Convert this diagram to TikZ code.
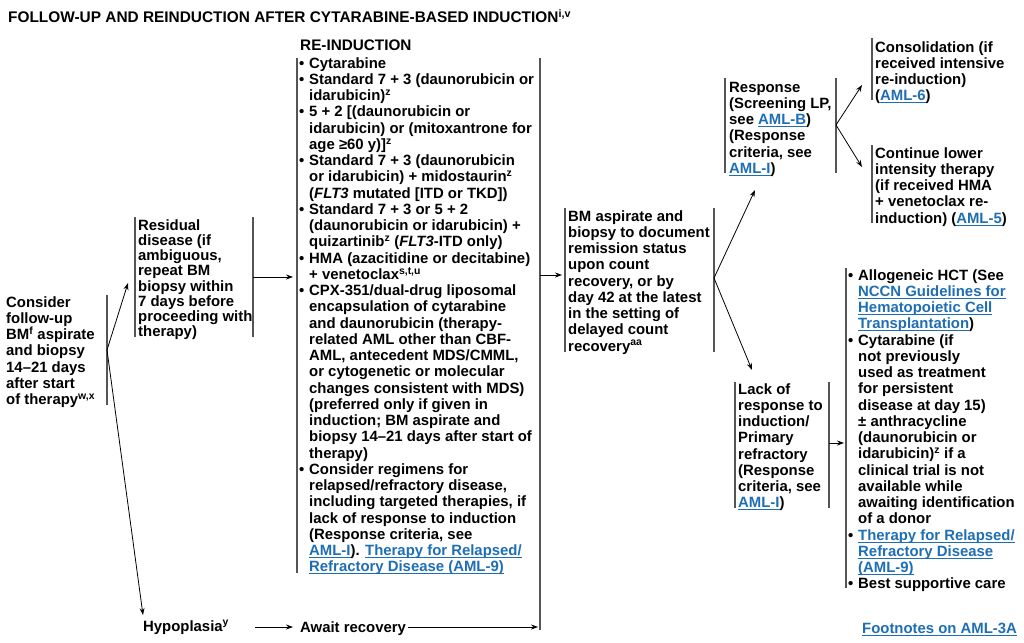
\documentclass[tikz,border=0pt]{standalone}
\usepackage{fontspec}
\setmainfont{Liberation Sans}
\usetikzlibrary{arrows.meta}
\definecolor{lnk}{RGB}{30,110,180}
\definecolor{barc}{RGB}{85,85,85}
\newcommand\lnk[1]{{\color{lnk}\setbox0=\hbox{#1}\leavevmode\rlap{\rule[-2.4pt]{\wd0}{0.9pt}}\box0}}
\newcommand\bul{\makebox[10pt][l]{•}}
\newcommand\ind{\hspace*{10pt}}
\newcommand\sq{\rule{0pt}{12pt}}
\tikzset{
  txt/.style={anchor=north west,inner sep=0pt,align=left,font=\bfseries\fontsize{14.9}{16.25}\selectfont},
  bar/.style={draw=barc,line width=1.6pt},
  arr/.style={-{Stealth[length=7pt,width=5pt]},line width=0.8pt},
}
\begin{document}
\begin{tikzpicture}[x=1pt,y=-1pt]
  \useasboundingbox (0,0) rectangle (1024,642);
  % headings
  \node[txt,font=\bfseries\fontsize{15.4}{16}\selectfont] (title) at (8,9) {\sq FOLLOW-UP AND REINDUCTION AFTER CYTARABINE-BASED INDUCTION\textsuperscript{i,v}};
  \node[txt,font=\bfseries\fontsize{15.3}{16}\selectfont] (rihead) at (300,38) {\sq RE-INDUCTION};
  % text blocks
  \node[txt] (fu) at (6,295) {\sq Consider\\follow-up\\BM\textsuperscript{f} aspirate\\and biopsy\\14–21 days\\after start\\of therapy\textsuperscript{w,x}};
  \node[txt,font=\bfseries\fontsize{14.9}{15.2}\selectfont] (res) at (138,218) {\sq Residual\\disease (if\\ambiguous,\\repeat BM\\biopsy within\\7 days before\\proceeding with\\therapy)};
  \node[txt] (hyp) at (143,619) {\sq Hypoplasia\textsuperscript{y}};
  \node[txt] (ri) at (299,56) {\sq\bul Cytarabine\\
    \bul Standard 7 + 3 (daunorubicin or\\
    \ind idarubicin)\textsuperscript{z}\\
    \bul 5 + 2 [(daunorubicin or\\
    \ind idarubicin) or (mitoxantrone for\\
    \ind age ≥60 y)]\textsuperscript{z}\\
    \bul Standard 7 + 3 (daunorubicin\\
    \ind or idarubicin) + midostaurin\textsuperscript{z}\\
    \ind (\textit{FLT3} mutated [ITD or TKD])\\
    \bul Standard 7 + 3 or 5 + 2\\
    \ind (daunorubicin or idarubicin) +\\
    \ind quizartinib\textsuperscript{z} (\textit{FLT3}-ITD only)\\
    \bul HMA (azacitidine or decitabine)\\
    \ind + venetoclax\textsuperscript{s,t,u}\\
    \bul CPX-351/dual-drug liposomal\\
    \ind encapsulation of cytarabine\\
    \ind and daunorubicin (therapy-\\
    \ind related AML other than CBF-\\
    \ind AML, antecedent MDS/CMML,\\
    \ind or cytogenetic or molecular\\
    \ind changes consistent with MDS)\\
    \ind (preferred only if given in\\
    \ind induction; BM aspirate and\\
    \ind biopsy 14–21 days after start of\\
    \ind therapy)\\
    \bul Consider regimens for\\
    \ind relapsed/refractory disease,\\
    \ind including targeted therapies, if\\
    \ind lack of response to induction\\
    \ind (Response criteria, see\\
    \ind \lnk{AML-I}). \lnk{Therapy for Relapsed/}\\
    \ind \lnk{Refractory Disease (AML-9)}};
  \node[txt] (await) at (300,620) {\sq Await recovery};
  \node[txt] (bm) at (568,209) {\sq BM aspirate and\\biopsy to document\\remission status\\upon count\\recovery, or by\\day 42 at the latest\\in the setting of\\delayed count\\recovery\textsuperscript{aa}};
  \node[txt] (rsp) at (729,80) {\sq Response\\(Screening LP,\\see \lnk{AML-B})\\(Response\\criteria, see\\\lnk{AML-I})};
  \node[txt] (cons) at (875,40) {\sq Consolidation (if\\received intensive\\re-induction)\\(\lnk{AML-6})};
  \node[txt] (cont) at (875,146) {\sq Continue lower\\intensity therapy\\(if received HMA\\+ venetoclax re-\\induction) (\lnk{AML-5})};
  \node[txt] (lack) at (738,382) {\sq Lack of\\response to\\induction/\\Primary\\refractory\\(Response\\criteria, see\\\lnk{AML-I})};
  \node[txt] (opt) at (848,268) {\sq\bul Allogeneic HCT (See\\
    \ind \lnk{NCCN Guidelines for}\\
    \ind \lnk{Hematopoietic Cell}\\
    \ind \lnk{Transplantation})\\
    \bul Cytarabine (if\\
    \ind not previously\\
    \ind used as treatment\\
    \ind for persistent\\
    \ind disease at day 15)\\
    \ind ± anthracycline\\
    \ind (daunorubicin or\\
    \ind idarubicin)\textsuperscript{z} if a\\
    \ind clinical trial is not\\
    \ind available while\\
    \ind awaiting identification\\
    \ind of a donor\\
    \bul \lnk{Therapy for Relapsed/}\\
    \ind \lnk{Refractory Disease}\\
    \ind \lnk{(AML-9)}\\
    \bul Best supportive care};
  \node[txt] (foot) at (862,621) {\sq\lnk{Footnotes on AML-3A}};
  % bars
  \draw[bar] (107,295) -- (107,405);
  \draw[bar] (135,217) -- (135,337) (253,217) -- (253,337);
  \draw[bar] (297,58) -- (297,573) (540,58) -- (540,630);
  \draw[bar] (565,208) -- (565,352) (714,208) -- (714,352);
  \draw[bar] (725,78) -- (725,173) (836,78) -- (836,173);
  \draw[bar] (872,38) -- (872,100) (872,145) -- (872,223);
  \draw[bar] (735,382) -- (735,508) (829,382) -- (829,508);
  \draw[bar] (846,268) -- (846,588);
  % connector ends
  \coordinate (fu-o) at (107,350);
  \coordinate (res-i) at (128,283);
  \coordinate (hyp-i) at (143,615);
  \coordinate (res-o) at (253,277);
  \coordinate (ri-i) at (293,277);
  \coordinate (hyp-o) at (255,627);
  \coordinate (await-i) at (293,627);
  \coordinate (await-o) at (408,627);
  \coordinate (ri-b) at (538,627);
  \coordinate (ri-o) at (540,275);
  \coordinate (bm-i) at (562,275);
  \coordinate (bm-o) at (714,278);
  \coordinate (rsp-i) at (755,190);
  \coordinate (lack-i) at (752,370);
  \coordinate (rsp-o) at (836,125);
  \coordinate (cons-i) at (862,85);
  \coordinate (cont-i) at (862,167);
  \coordinate (lack-o) at (829,443);
  \coordinate (opt-i) at (844,443);
  % connectors
  \draw[arr] (fu-o) -- (res-i);
  \draw[arr] (fu-o) -- (hyp-i);
  \draw[arr] (res-o) -- (ri-i);
  \draw[arr] (hyp-o) -- (await-i);
  \draw[arr] (await-o) -- (ri-b);
  \draw[arr] (ri-o) -- (bm-i);
  \draw[arr] (bm-o) -- (rsp-i);
  \draw[arr] (bm-o) -- (lack-i);
  \draw[arr] (rsp-o) -- (cons-i);
  \draw[arr] (rsp-o) -- (cont-i);
  \draw[arr] (lack-o) -- (opt-i);
\end{tikzpicture}
\end{document}
